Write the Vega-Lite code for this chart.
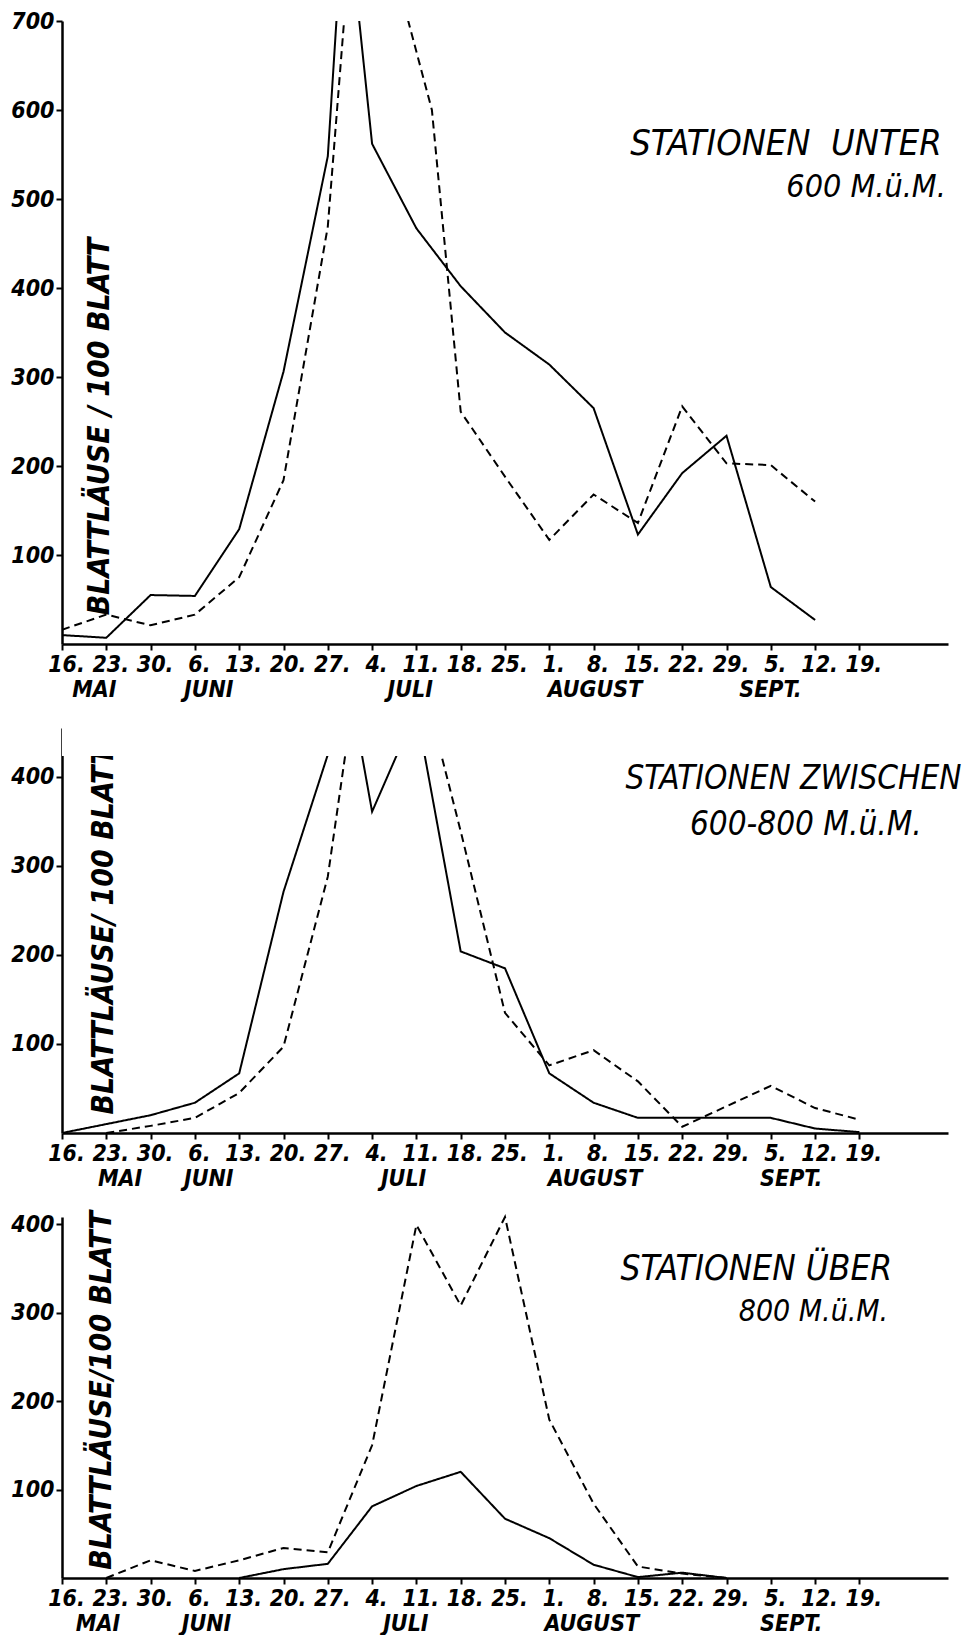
{
  "$schema": "https://vega.github.io/schema/vega-lite/v6.json",
  "background": "white",
  "padding": {"left": 10, "top": 10, "right": 0, "bottom": 0},
  "config": {
    "view": {"stroke": null},
    "axis": {
      "grid": false, "domainColor": "black", "tickColor": "black", "labelColor": "black", "titleColor": "black",
      "domainWidth": 2.5, "tickWidth": 2, "tickSize": 6,
      "labelFont": "DejaVu Sans Condensed", "labelFontSize": 23, "labelFontWeight": "bold", "labelFontStyle": "italic",
      "titleFont": "DejaVu Sans Condensed", "titleFontSize": 30, "titleFontWeight": "bold", "titleFontStyle": "italic",
      "zindex": 1
    },
    "axisX": {
      "labelOverlap": false, "labelFlush": false, "labelBound": false, "labelFontSize": 23, "title": null,
      "labelAlign": "center", "labelBaseline": "top",
      "labelPadding": {"condition": {"test": "datum.value % 1 !== 0", "value": 28}, "value": 3},
      "labelOffset": {"condition": {"test": "datum.value % 1 !== 0", "value": 0}, "value": 4},
      "tickOpacity": {"condition": {"test": "datum.value % 1 !== 0", "value": 0}, "value": 1},
      "labelExpr": "datum.value % 1 === 0 ? ['16.','23.','30.','6.','13.','20.','27.','4.','11.','18.','25.','1.','8.','15.','22.','29.','5.','12.','19.'][datum.value] : (datum.value < 2 ? 'MAI' : datum.value < 5 ? 'JUNI' : datum.value < 10 ? 'JULI' : datum.value < 14 ? 'AUGUST' : 'SEPT.')"
    },
    "text": {"font": "DejaVu Sans Condensed", "fontStyle": "italic", "fontWeight": "normal", "baseline": "middle", "color": "black"}
  },
  "datasets": {
    "kurven": [
      {"stufe":"unter600","kurve":"durchgezogen","woche":0,"wert":10},
      {"stufe":"unter600","kurve":"durchgezogen","woche":1,"wert":7},
      {"stufe":"unter600","kurve":"durchgezogen","woche":2,"wert":55},
      {"stufe":"unter600","kurve":"durchgezogen","woche":3,"wert":54},
      {"stufe":"unter600","kurve":"durchgezogen","woche":4,"wert":129},
      {"stufe":"unter600","kurve":"durchgezogen","woche":5,"wert":306},
      {"stufe":"unter600","kurve":"durchgezogen","woche":6,"wert":548},
      {"stufe":"unter600","kurve":"durchgezogen","woche":6.39,"wert":852},
      {"stufe":"unter600","kurve":"durchgezogen","woche":7,"wert":562},
      {"stufe":"unter600","kurve":"durchgezogen","woche":8,"wert":467},
      {"stufe":"unter600","kurve":"durchgezogen","woche":9,"wert":402},
      {"stufe":"unter600","kurve":"durchgezogen","woche":10,"wert":350},
      {"stufe":"unter600","kurve":"durchgezogen","woche":11,"wert":314},
      {"stufe":"unter600","kurve":"durchgezogen","woche":12,"wert":265},
      {"stufe":"unter600","kurve":"durchgezogen","woche":13,"wert":123},
      {"stufe":"unter600","kurve":"durchgezogen","woche":14,"wert":192},
      {"stufe":"unter600","kurve":"durchgezogen","woche":15,"wert":234},
      {"stufe":"unter600","kurve":"durchgezogen","woche":16,"wert":64},
      {"stufe":"unter600","kurve":"durchgezogen","woche":17,"wert":27},
      {"stufe":"unter600","kurve":"gestrichelt","woche":0,"wert":16},
      {"stufe":"unter600","kurve":"gestrichelt","woche":1,"wert":33},
      {"stufe":"unter600","kurve":"gestrichelt","woche":2,"wert":21},
      {"stufe":"unter600","kurve":"gestrichelt","woche":3,"wert":33},
      {"stufe":"unter600","kurve":"gestrichelt","woche":4,"wert":75},
      {"stufe":"unter600","kurve":"gestrichelt","woche":5,"wert":184},
      {"stufe":"unter600","kurve":"gestrichelt","woche":6,"wert":469},
      {"stufe":"unter600","kurve":"gestrichelt","woche":6.7,"wert":909},
      {"stufe":"unter600","kurve":"gestrichelt","woche":8.35,"wert":600},
      {"stufe":"unter600","kurve":"gestrichelt","woche":9,"wert":261},
      {"stufe":"unter600","kurve":"gestrichelt","woche":10,"wert":188},
      {"stufe":"unter600","kurve":"gestrichelt","woche":11,"wert":117},
      {"stufe":"unter600","kurve":"gestrichelt","woche":12,"wert":168},
      {"stufe":"unter600","kurve":"gestrichelt","woche":13,"wert":136},
      {"stufe":"unter600","kurve":"gestrichelt","woche":14,"wert":267},
      {"stufe":"unter600","kurve":"gestrichelt","woche":15,"wert":203},
      {"stufe":"unter600","kurve":"gestrichelt","woche":16,"wert":201},
      {"stufe":"unter600","kurve":"gestrichelt","woche":17,"wert":160},
      {"stufe":"600bis800","kurve":"durchgezogen","woche":0,"wert":0},
      {"stufe":"600bis800","kurve":"durchgezogen","woche":1,"wert":10},
      {"stufe":"600bis800","kurve":"durchgezogen","woche":2,"wert":20},
      {"stufe":"600bis800","kurve":"durchgezogen","woche":3,"wert":34},
      {"stufe":"600bis800","kurve":"durchgezogen","woche":4,"wert":67},
      {"stufe":"600bis800","kurve":"durchgezogen","woche":5,"wert":271},
      {"stufe":"600bis800","kurve":"durchgezogen","woche":6,"wert":425},
      {"stufe":"600bis800","kurve":"durchgezogen","woche":6.39,"wert":530},
      {"stufe":"600bis800","kurve":"durchgezogen","woche":7,"wert":361},
      {"stufe":"600bis800","kurve":"durchgezogen","woche":8,"wert":475},
      {"stufe":"600bis800","kurve":"durchgezogen","woche":9,"wert":204},
      {"stufe":"600bis800","kurve":"durchgezogen","woche":10,"wert":185},
      {"stufe":"600bis800","kurve":"durchgezogen","woche":11,"wert":67},
      {"stufe":"600bis800","kurve":"durchgezogen","woche":12,"wert":34},
      {"stufe":"600bis800","kurve":"durchgezogen","woche":13,"wert":17},
      {"stufe":"600bis800","kurve":"durchgezogen","woche":14,"wert":17},
      {"stufe":"600bis800","kurve":"durchgezogen","woche":15,"wert":17},
      {"stufe":"600bis800","kurve":"durchgezogen","woche":16,"wert":17},
      {"stufe":"600bis800","kurve":"durchgezogen","woche":17,"wert":5},
      {"stufe":"600bis800","kurve":"durchgezogen","woche":18,"wert":1},
      {"stufe":"600bis800","kurve":"gestrichelt","woche":1,"wert":0},
      {"stufe":"600bis800","kurve":"gestrichelt","woche":2,"wert":8},
      {"stufe":"600bis800","kurve":"gestrichelt","woche":3,"wert":17},
      {"stufe":"600bis800","kurve":"gestrichelt","woche":4,"wert":45},
      {"stufe":"600bis800","kurve":"gestrichelt","woche":5,"wert":97},
      {"stufe":"600bis800","kurve":"gestrichelt","woche":6,"wert":288},
      {"stufe":"600bis800","kurve":"gestrichelt","woche":7,"wert":635},
      {"stufe":"600bis800","kurve":"gestrichelt","woche":8,"wert":535},
      {"stufe":"600bis800","kurve":"gestrichelt","woche":9,"wert":339},
      {"stufe":"600bis800","kurve":"gestrichelt","woche":10,"wert":135},
      {"stufe":"600bis800","kurve":"gestrichelt","woche":11,"wert":76},
      {"stufe":"600bis800","kurve":"gestrichelt","woche":12,"wert":93},
      {"stufe":"600bis800","kurve":"gestrichelt","woche":13,"wert":58},
      {"stufe":"600bis800","kurve":"gestrichelt","woche":14,"wert":7},
      {"stufe":"600bis800","kurve":"gestrichelt","woche":15,"wert":30},
      {"stufe":"600bis800","kurve":"gestrichelt","woche":16,"wert":53},
      {"stufe":"600bis800","kurve":"gestrichelt","woche":17,"wert":28},
      {"stufe":"600bis800","kurve":"gestrichelt","woche":18,"wert":15},
      {"stufe":"ueber800","kurve":"durchgezogen","woche":4,"wert":0},
      {"stufe":"ueber800","kurve":"durchgezogen","woche":5,"wert":10},
      {"stufe":"ueber800","kurve":"durchgezogen","woche":6,"wert":16},
      {"stufe":"ueber800","kurve":"durchgezogen","woche":7,"wert":81},
      {"stufe":"ueber800","kurve":"durchgezogen","woche":8,"wert":104},
      {"stufe":"ueber800","kurve":"durchgezogen","woche":9,"wert":120},
      {"stufe":"ueber800","kurve":"durchgezogen","woche":10,"wert":67},
      {"stufe":"ueber800","kurve":"durchgezogen","woche":11,"wert":45},
      {"stufe":"ueber800","kurve":"durchgezogen","woche":12,"wert":15},
      {"stufe":"ueber800","kurve":"durchgezogen","woche":13,"wert":1},
      {"stufe":"ueber800","kurve":"durchgezogen","woche":14,"wert":6},
      {"stufe":"ueber800","kurve":"durchgezogen","woche":15,"wert":0},
      {"stufe":"ueber800","kurve":"gestrichelt","woche":1,"wert":0},
      {"stufe":"ueber800","kurve":"gestrichelt","woche":2,"wert":20},
      {"stufe":"ueber800","kurve":"gestrichelt","woche":3,"wert":8},
      {"stufe":"ueber800","kurve":"gestrichelt","woche":4,"wert":20},
      {"stufe":"ueber800","kurve":"gestrichelt","woche":5,"wert":34},
      {"stufe":"ueber800","kurve":"gestrichelt","woche":6,"wert":29},
      {"stufe":"ueber800","kurve":"gestrichelt","woche":7,"wert":150},
      {"stufe":"ueber800","kurve":"gestrichelt","woche":8,"wert":399},
      {"stufe":"ueber800","kurve":"gestrichelt","woche":9,"wert":308},
      {"stufe":"ueber800","kurve":"gestrichelt","woche":10,"wert":408},
      {"stufe":"ueber800","kurve":"gestrichelt","woche":11,"wert":179},
      {"stufe":"ueber800","kurve":"gestrichelt","woche":12,"wert":84},
      {"stufe":"ueber800","kurve":"gestrichelt","woche":13,"wert":13},
      {"stufe":"ueber800","kurve":"gestrichelt","woche":14,"wert":5},
      {"stufe":"ueber800","kurve":"gestrichelt","woche":15,"wert":0}
    ]
  },
  "spacing": 84,
  "bounds": "flush",
  "vconcat": [
    {
      "width": 886, "height": 623,
      "resolve": {"axis": {"x": "independent", "y": "independent"}},
      "layer": [
        {
          "data": {"name": "kurven"},
          "transform": [{"filter": "datum.stufe === 'unter600'"}],
          "mark": {"type": "line", "color": "black", "strokeWidth": 2, "clip": true},
          "encoding": {
            "x": {"field": "woche", "type": "quantitative", "scale": {"domain": [0, 20], "nice": false, "zero": false},
              "axis": {"values": [0,1,2,3,4,5,6,7,8,9,10,11,12,13,14,15,16,17,18,0.72,3.3,7.85,12.02,15.98]}},
            "y": {"field": "wert", "type": "quantitative", "scale": {"domain": [0, 700], "nice": false},
              "axis": {"values": [100,200,300,400,500,600,700], "format": "d", "labelPadding": 2,
                "title": "BLATTLÄUSE / 100 BLATT", "titleAngle": 270, "titleX": 37, "titleY": 405, "titleAlign": "center", "titleBaseline": "middle"}},
            "strokeDash": {"field": "kurve", "type": "nominal", "scale": {"domain": ["durchgezogen", "gestrichelt"], "range": [[1, 0], [8, 5]]}, "legend": null}
          }
        },
        {
          "data": {"values": [{}]},
          "mark": {"type": "text", "fontSize": 36, "align": "right"},
          "encoding": {
            "x": {"datum": 19.86, "type": "quantitative", "scale": {"domain": [0, 20], "nice": false, "zero": false}, "axis": null},
            "y": {"datum": 562, "type": "quantitative", "scale": {"domain": [0, 700], "nice": false}, "axis": null},
            "text": {"value": "STATIONEN\u00a0\u00a0UNTER"}
          }
        },
        {
          "data": {"values": [{}]},
          "mark": {"type": "text", "fontSize": 32, "align": "right"},
          "encoding": {
            "x": {"datum": 19.95, "type": "quantitative", "scale": {"domain": [0, 20], "nice": false, "zero": false}, "axis": null},
            "y": {"datum": 513, "type": "quantitative", "scale": {"domain": [0, 700], "nice": false}, "axis": null},
            "text": {"value": "600 M.ü.M."}
          }
        }
      ]
    },
    {
      "width": 886, "height": 405,
      "resolve": {"axis": {"x": "independent", "y": "independent"}},
      "layer": [
        {
          "data": {"name": "kurven"},
          "transform": [{"filter": "datum.stufe === '600bis800'"}],
          "mark": {"type": "line", "color": "black", "strokeWidth": 2, "clip": true},
          "encoding": {
            "x": {"field": "woche", "type": "quantitative", "scale": {"domain": [0, 20], "nice": false, "zero": false},
              "axis": {"values": [0,1,2,3,4,5,6,7,8,9,10,11,12,13,14,15,16,17,18,1.3,3.3,7.7,12.02,16.45]}},
            "y": {"field": "wert", "type": "quantitative", "scale": {"domain": [0, 455], "nice": false},
              "axis": {"values": [100,200,300,400], "format": "d", "labelPadding": 2,
                "title": "BLATTLÄUSE/ 100 BLATT", "titleAngle": 270, "titleX": 41, "titleY": 202, "titleAlign": "center", "titleBaseline": "middle"}},
            "strokeDash": {"field": "kurve", "type": "nominal", "scale": {"domain": ["durchgezogen", "gestrichelt"], "range": [[1, 0], [8, 5]]}, "legend": null}
          }
        },
        {
          "data": {"values": [{}]},
          "mark": {"type": "rect", "fill": "white"},
          "encoding": {
            "x": {"datum": 0, "type": "quantitative", "scale": {"domain": [0, 20], "nice": false, "zero": false}, "axis": null},
            "x2": {"datum": 20},
            "y": {"datum": 423.6, "type": "quantitative", "scale": {"domain": [0, 455], "nice": false}, "axis": null},
            "y2": {"datum": 455}
          }
        },
        {
          "data": {"values": [{}]},
          "mark": {"type": "text", "fontSize": 33, "align": "center"},
          "encoding": {
            "x": {"datum": 16.51, "type": "quantitative", "scale": {"domain": [0, 20], "nice": false, "zero": false}, "axis": null},
            "y": {"datum": 398, "type": "quantitative", "scale": {"domain": [0, 455], "nice": false}, "axis": null},
            "text": {"value": "STATIONEN ZWISCHEN"}
          }
        },
        {
          "data": {"values": [{}]},
          "mark": {"type": "text", "fontSize": 33, "align": "center"},
          "encoding": {
            "x": {"datum": 16.79, "type": "quantitative", "scale": {"domain": [0, 20], "nice": false, "zero": false}, "axis": null},
            "y": {"datum": 346, "type": "quantitative", "scale": {"domain": [0, 455], "nice": false}, "axis": null},
            "text": {"value": "600-800 M.ü.M."}
          }
        }
      ]
    },
    {
      "width": 886, "height": 361,
      "resolve": {"axis": {"x": "independent", "y": "independent"}},
      "layer": [
        {
          "data": {"name": "kurven"},
          "transform": [{"filter": "datum.stufe === 'ueber800'"}],
          "mark": {"type": "line", "color": "black", "strokeWidth": 2},
          "encoding": {
            "x": {"field": "woche", "type": "quantitative", "scale": {"domain": [0, 20], "nice": false, "zero": false},
              "axis": {"values": [0,1,2,3,4,5,6,7,8,9,10,11,12,13,14,15,16,17,18,0.8,3.25,7.75,11.95,16.45]}},
            "y": {"field": "wert", "type": "quantitative", "scale": {"domain": [0, 408], "nice": false},
              "axis": {"values": [100,200,300,400], "format": "d", "labelPadding": 2,
                "title": "BLATTLÄUSE/100 BLATT", "titleAngle": 270, "titleX": 39, "titleY": 173, "titleAlign": "center", "titleBaseline": "middle"}},
            "strokeDash": {"field": "kurve", "type": "nominal", "scale": {"domain": ["durchgezogen", "gestrichelt"], "range": [[1, 0], [8, 5]]}, "legend": null}
          }
        },
        {
          "data": {"values": [{}]},
          "mark": {"type": "text", "fontSize": 35, "align": "right"},
          "encoding": {
            "x": {"datum": 18.74, "type": "quantitative", "scale": {"domain": [0, 20], "nice": false, "zero": false}, "axis": null},
            "y": {"datum": 349, "type": "quantitative", "scale": {"domain": [0, 408], "nice": false}, "axis": null},
            "text": {"value": "STATIONEN ÜBER"}
          }
        },
        {
          "data": {"values": [{}]},
          "mark": {"type": "text", "fontSize": 30, "align": "right"},
          "encoding": {
            "x": {"datum": 18.65, "type": "quantitative", "scale": {"domain": [0, 20], "nice": false, "zero": false}, "axis": null},
            "y": {"datum": 301, "type": "quantitative", "scale": {"domain": [0, 408], "nice": false}, "axis": null},
            "text": {"value": "800 M.ü.M."}
          }
        }
      ]
    }
  ]
}
